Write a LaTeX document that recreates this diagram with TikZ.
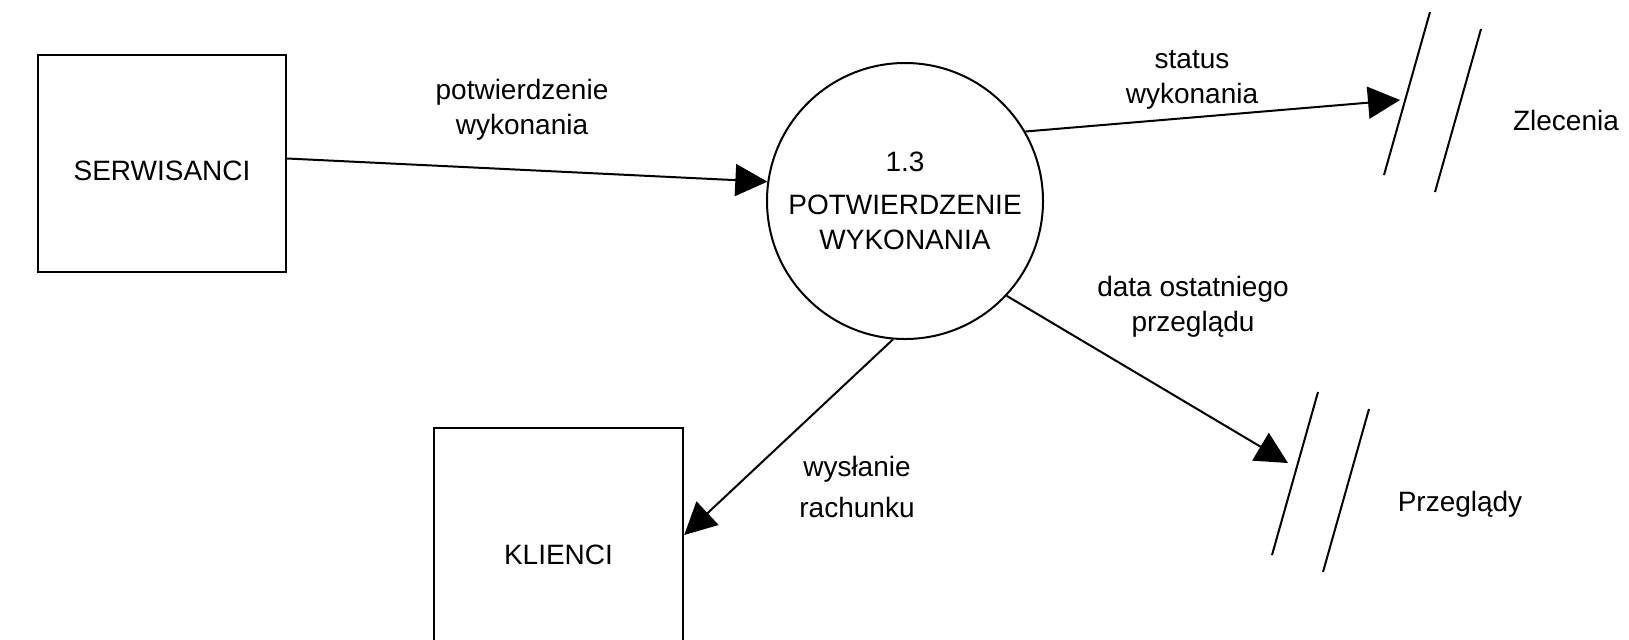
\documentclass[tikz,border=0pt]{standalone}
\usepackage{fontspec}
\setmainfont{Liberation Sans}
\usetikzlibrary{arrows.meta}

\begin{document}
\begin{tikzpicture}[x=0.5pt,y=-0.5pt,
    font=\fontsize{14pt}{17.5pt}\selectfont,
    ent/.style={draw,line width=1.2pt,inner sep=0pt},
    flow/.style={-{Triangle[length=16pt,width=16pt]},line width=1pt},
    lbl/.style={align=center}]
  \useasboundingbox (0,0) rectangle (1629,639);
  \clip (0,0) rectangle (1629,639);

  \node[ent,minimum width=124pt,minimum height=108.5pt,text height=17pt] (serw) at (162,163.5) {SERWISANCI};
  \node[ent,minimum width=124.5pt,minimum height=127pt] (kli) at (558.5,555) {KLIENCI};
  \node[draw,circle,line width=1pt,minimum size=138pt,inner sep=0pt,align=center]
    (proc) at (905,201) {1.3\\[4pt]POTWIERDZENIE\\WYKONANIA};

  % magazyny danych
  \foreach \x/\y in {1430/12, 1318/392}{
    \draw[line width=1pt] (\x,\y) -- ++(-46,163);
    \draw[line width=1pt] (\x+51,\y+17) -- ++(-46,163);
  }
  \coordinate (zlecIn) at (1400,100);
  \coordinate (przIn) at (1288,463);
  \node (zlec) at (1566,120) {Zlecenia};
  \node (prz) at (1460,504) {Przeglądy};

  \draw[flow] ([yshift=2.5pt]serw.east) -- (proc.172);
  \draw[flow] (proc.30) -- (zlecIn);
  \draw[flow] (proc.-43) -- (przIn);
  \draw[flow] (proc.265) -- ([yshift=10pt]kli.east);

  \node[lbl] (lPot) at (522,110) {potwierdzenie\\wykonania};
  \node[lbl] (lStat) at (1192,80) {status\\wykonania};
  \node[lbl] (lData) at (1193,307) {data ostatniego\\przeglądu};
  \node[lbl] (lWys) at (857,487) {wysłanie\\[3pt]rachunku};

\end{tikzpicture}
\end{document}
